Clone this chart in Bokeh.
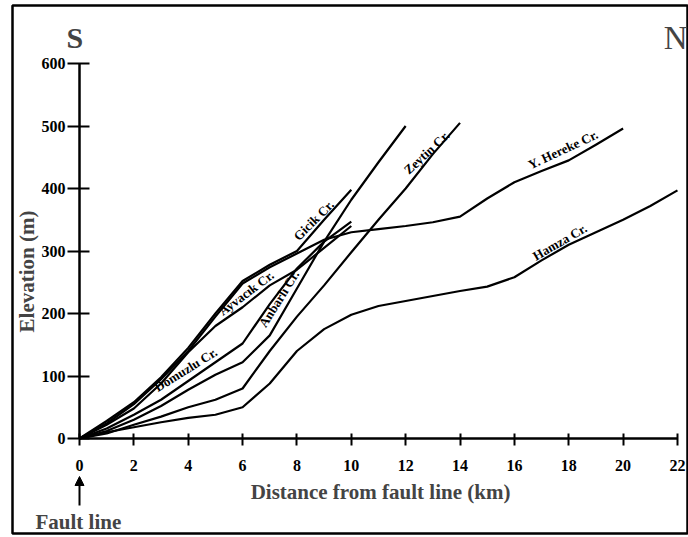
from bokeh.plotting import figure
from bokeh.models import Range1d, FixedTicker, Label, Arrow, NormalHead
from bokeh.embed import file_html
from bokeh.resources import INLINE

# ---- data (distance from fault line in km, elevation in m) ----
gicik_x = [0, 1, 2, 3, 4, 5, 6, 7, 8, 9, 10]
gicik_y = [0, 28, 58, 98, 145, 200, 252, 278, 300, 350, 398]

hereke_x = [0, 1, 2, 3, 4, 5, 6, 7, 8, 9, 10, 11, 12, 13, 14, 15, 16, 17, 18, 19, 20]
hereke_y = [0, 24, 55, 95, 140, 195, 248, 274, 296, 318, 330, 335, 340, 346, 355, 384, 410, 428, 445, 470, 496]

ayvacik_x = [0, 1, 2, 3, 4, 5, 6, 7, 8, 9, 10]
ayvacik_y = [0, 22, 48, 88, 138, 180, 210, 245, 270, 305, 340]

domuzlu_x = [0, 1, 2, 3, 4, 5, 6, 7, 8, 9, 10]
domuzlu_y = [0, 16, 38, 62, 92, 122, 152, 215, 272, 315, 347]

anbarli_x = [0, 1, 2, 3, 4, 5, 6, 7, 8, 9, 10, 11, 12]
anbarli_y = [0, 12, 30, 52, 78, 102, 122, 165, 240, 315, 382, 442, 500]

zeytin_x = [0, 1, 2, 3, 4, 5, 6, 7, 8, 9, 10, 11, 12, 13, 14]
zeytin_y = [0, 8, 22, 35, 50, 62, 80, 140, 195, 245, 298, 350, 400, 455, 505]

hamza_x = [0, 1, 2, 3, 4, 5, 6, 7, 8, 9, 10, 11, 12, 13, 14, 15, 16, 17, 18, 19, 20, 21, 22]
hamza_y = [0, 10, 18, 26, 33, 38, 50, 88, 140, 175, 198, 212, 220, 228, 236, 243, 258, 285, 310, 330, 350, 372, 397]

x_ticks = [0, 2, 4, 6, 8, 10, 12, 14, 16, 18, 20, 22]
y_ticks = [0, 100, 200, 300, 400, 500, 600]

curve_names = ["Gicik Cr.", "Ayvacık Cr.", "Domuzlu Cr.", "Anbarlı Cr.", "Zeytin Cr.", "Y. Hereke Cr.", "Hamza Cr."]

# ---- layout helpers (page pixel -> data) ----
X0, KM = 79.0, 27.18
Y0, M = 438.0, 0.625


def sx(px):
    return (px - X0) / KM


def sy(py):
    return (Y0 - py) / M


SERIF = "Liberation Serif"

p = figure(width=688, height=537, output_backend="svg", toolbar_location=None,
           x_range=Range1d(sx(12), sx(687)), y_range=Range1d(sy(533), sy(5)),
           min_border_left=12, min_border_right=1, min_border_top=5, min_border_bottom=4)
p.title.text = ""
p.grid.visible = False
p.outline_line_color = "black"
p.outline_line_width = 2.5
p.background_fill_color = "white"
p.border_fill_color = "white"

# axes crossing at the origin
p.xaxis.fixed_location = 0
p.yaxis.fixed_location = 0
p.xaxis.ticker = FixedTicker(ticks=x_ticks)
p.yaxis.ticker = FixedTicker(ticks=y_ticks)
p.xaxis.bounds = (0, 22)
p.yaxis.bounds = (0, 600)
for ax in (p.xaxis, p.yaxis):
    ax.axis_line_width = 2.5
    ax.axis_line_color = "black"
    ax.major_tick_line_width = 2
    ax.major_tick_line_color = "black"
    ax.minor_tick_line_color = None
    ax.major_label_text_font = SERIF
    ax.major_label_text_font_style = "bold"
    ax.major_label_text_font_size = "16px"
    ax.major_label_text_color = "black"
p.xaxis.major_tick_in = 5
p.xaxis.major_tick_out = 7
p.xaxis.major_label_standoff = 14
p.yaxis.major_tick_in = 10
p.yaxis.major_tick_out = 12
p.yaxis.major_label_standoff = 2

# curves
for xs, ys in [(gicik_x, gicik_y), (hereke_x, hereke_y), (ayvacik_x, ayvacik_y),
               (domuzlu_x, domuzlu_y), (anbarli_x, anbarli_y), (zeytin_x, zeytin_y),
               (hamza_x, hamza_y)]:
    p.line(xs, ys, line_color="black", line_width=2.2, line_join="round")

# curve labels
label_specs = [
    (curve_names[0], 8.15, 312, 45),
    (curve_names[1], 5.35, 192, 37),
    (curve_names[2], 2.95, 70, 32),
    (curve_names[3], 6.95, 174, 58),
    (curve_names[4], 12.2, 418, 43),
    (curve_names[5], 16.65, 426, 25),
    (curve_names[6], 16.85, 280, 30),
]
for txt, lx, ly, ang in label_specs:
    p.add_layout(Label(x=lx, y=ly, text=txt, angle=ang, angle_units="deg",
                       text_font=SERIF, text_font_style="bold", text_font_size="13px",
                       text_align="left", text_baseline="bottom", text_color="black"))

# titles / annotations
p.add_layout(Label(x=sx(66), y=sy(37), text="S", text_font=SERIF, text_font_style="bold",
                   text_font_size="30px", text_align="left", text_baseline="middle"))
p.add_layout(Label(x=sx(687), y=sy(37), text="N", text_font=SERIF, text_font_style="normal",
                   text_font_size="33px", text_align="right", text_baseline="middle"))
p.add_layout(Label(x=sx(380), y=sy(491), text="Distance from fault line (km)", text_font=SERIF,
                   text_font_style="bold", text_font_size="21px", text_align="center",
                   text_baseline="middle"))
p.add_layout(Label(x=sx(26), y=sy(271), text="Elevation (m)", text_font=SERIF,
                   text_font_style="bold", text_font_size="21px", text_align="center",
                   text_baseline="middle", angle=90, angle_units="deg"))
p.add_layout(Label(x=sx(35), y=sy(521), text="Fault line", text_font=SERIF,
                   text_font_style="bold", text_font_size="21px", text_align="left",
                   text_baseline="middle"))
p.add_layout(Arrow(end=NormalHead(size=9, fill_color="black", line_color="black"),
                   x_start=0, y_start=sy(505), x_end=0, y_end=sy(476),
                   line_width=2, line_color="black"))

open("out.html", "w").write(file_html(p, INLINE))
